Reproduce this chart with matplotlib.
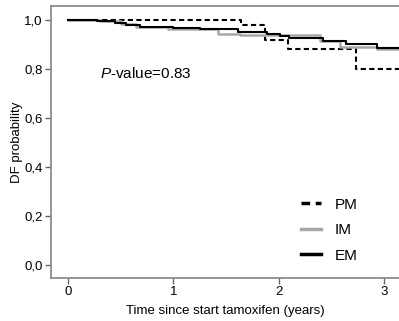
import matplotlib
matplotlib.use("Agg")
import matplotlib.pyplot as plt

plt.rcParams['font.family'] = ['Liberation Sans', 'DejaVu Sans']
plt.rcParams['mathtext.fontset'] = 'custom'
plt.rcParams['mathtext.it'] = 'Liberation Sans:italic'
plt.rcParams['mathtext.rm'] = 'Liberation Sans'

# Step curves (time in years, survival probability)
pm_t = [0.0, 1.64, 1.87, 2.09, 2.73, 3.3]
pm_s = [1.0, 0.978, 0.918, 0.883, 0.80, 0.80]

im_t = [0.0, 0.30, 0.50, 0.65, 0.95, 1.42, 1.63, 2.39, 2.58, 2.93, 3.3]
im_s = [1.0, 0.996, 0.985, 0.972, 0.965, 0.943, 0.937, 0.915, 0.892, 0.883, 0.883]

em_t = [0.0, 0.28, 0.45, 0.55, 0.68, 1.00, 1.25, 1.61, 1.89, 2.01, 2.10, 2.42, 2.64, 2.93, 3.3]
em_s = [1.0, 0.995, 0.99, 0.98, 0.972, 0.966, 0.962, 0.952, 0.942, 0.933, 0.925, 0.915, 0.902, 0.885, 0.885]

x_ticks = [0, 1, 2, 3]
y_ticks = [0.0, 0.2, 0.4, 0.6, 0.8, 1.0]
y_tick_labels = ['0,0', '0,2', '0,4', '0,6', '0,8', '1,0']

fig = plt.figure(figsize=(3.99, 3.21), dpi=100)
ax = fig.add_axes([0.128, 0.135, 0.872, 0.846])

ax.step(pm_t, pm_s, where='post', color='black', lw=1.5, linestyle=(0, (2.5, 1.6)), label='PM')
ax.step(im_t, im_s, where='post', color='#a8a8a8', lw=1.8, label='IM')
ax.step(em_t, em_s, where='post', color='black', lw=1.5, label='EM')

ax.set_xlim(-0.16, 3.14)
ax.set_ylim(-0.052, 1.057)
ax.set_xticks(x_ticks)
ax.set_xticklabels([str(v) for v in x_ticks])
ax.set_yticks(y_ticks)
ax.set_yticklabels(y_tick_labels)

for s in ['left', 'bottom', 'top']:
    ax.spines[s].set_color('#8c8c8c')
    ax.spines[s].set_linewidth(1.3)
ax.spines['right'].set_visible(False)
ax.tick_params(axis='both', direction='out', length=4, width=1, color='#666666',
               labelsize=9.5, labelcolor='black', pad=2)

ax.set_xlabel('Time since start tamoxifen (years)', fontsize=9.5, labelpad=5)
ax.set_ylabel('DF probability', fontsize=9.5, labelpad=1)

ax.text(100, 321 - 73, r'$\it{P}$-value=0.83', transform=None, fontsize=11,
        va='center', ha='left')

leg = ax.legend(loc='upper left', bbox_to_anchor=(287 / 399, 1 - 184 / 321),
                bbox_transform=fig.transFigure, frameon=False, fontsize=11,
                handlelength=1.35, handletextpad=0.9, labelspacing=0.75)
for h in leg.get_lines():
    h.set_linewidth(2.5)

fig.savefig('out.png', dpi=100)
